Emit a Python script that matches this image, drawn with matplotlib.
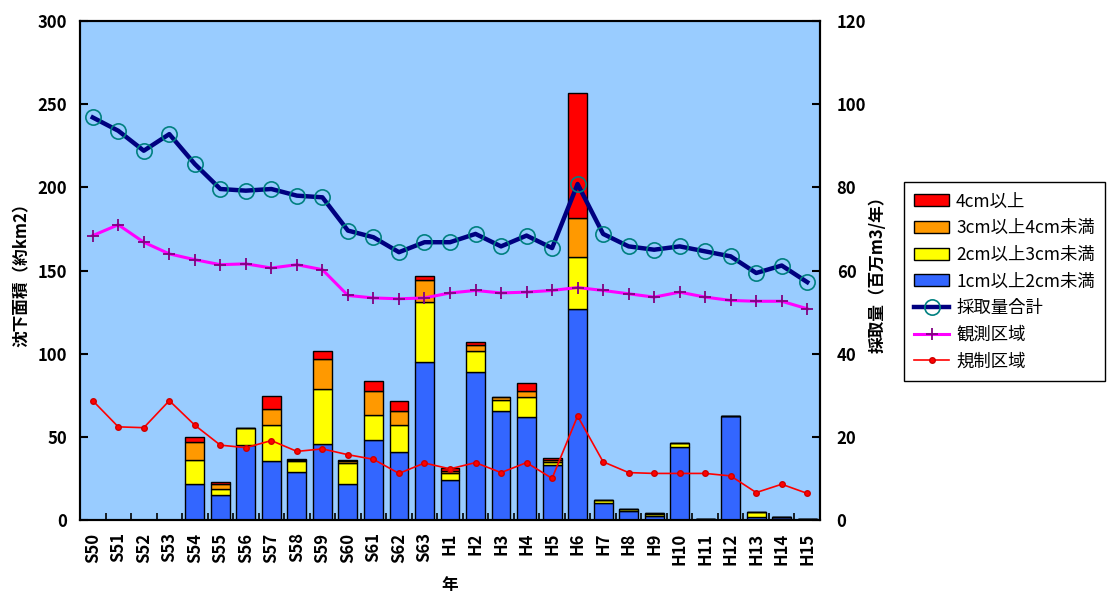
import matplotlib.pyplot as plt
from matplotlib.lines import Line2D
from matplotlib.patches import Patch
import numpy as np

plt.rcParams['font.family'] = ['Noto Sans CJK JP', 'DejaVu Sans']

years = ["S50", "S51", "S52", "S53", "S54", "S55", "S56", "S57", "S58", "S59",
         "S60", "S61", "S62", "S63", "H1", "H2", "H3", "H4", "H5", "H6",
         "H7", "H8", "H9", "H10", "H11", "H12", "H13", "H14", "H15"]

# subsidence area (km2) by class, left axis
area_1_2cm = [0, 0, 0, 0, 21.8, 14.8, 45.1, 35.3, 28.9, 45.7,
              21.8, 48.1, 40.9, 95.2, 23.9, 89.0, 65.5, 62.1, 33.1, 126.9,
              10.0, 5.6, 2.6, 44.1, 0.8, 62.7, 2.0, 2.0, 0.8]
area_2_3cm = [0, 0, 0, 0, 14.1, 4.0, 10.0, 21.6, 6.4, 33.3,
              12.3, 14.9, 16.4, 35.7, 4.2, 12.4, 6.7, 12.1, 2.0, 31.1,
              2.0, 1.2, 1.0, 2.0, 0, 0, 3.0, 0, 0]
area_3_4cm = [0, 0, 0, 0, 11.2, 2.8, 0, 10.0, 1.0, 17.6,
              1.2, 14.6, 8.4, 13.2, 1.6, 3.6, 2.0, 3.6, 1.0, 23.8,
              0, 0, 0.6, 0, 0, 0, 0, 0, 0]
area_4cm = [0, 0, 0, 0, 3.0, 1.4, 0, 7.9, 0.6, 5.0,
            0.8, 5.8, 5.7, 2.6, 1.4, 2.2, 0, 4.4, 1.0, 74.8,
            0, 0, 0, 0, 0, 0, 0, 0, 0]

# groundwater extraction (million m3/year), right axis
total_extraction = [96.8, 93.6, 88.8, 92.8, 85.6, 79.6, 79.2, 79.6, 78.0, 77.6,
                    69.6, 68.0, 64.4, 66.8, 66.8, 68.8, 65.8, 68.4, 65.4, 80.8,
                    68.8, 65.8, 65.0, 65.8, 64.6, 63.4, 59.4, 61.2, 57.2]
observed_area = [68.4, 71.0, 66.8, 64.0, 62.6, 61.4, 61.6, 60.6, 61.4, 60.2,
                 54.0, 53.4, 53.2, 53.4, 54.6, 55.2, 54.6, 54.8, 55.2, 55.9,
                 55.2, 54.4, 53.6, 54.8, 53.6, 52.8, 52.6, 52.6, 50.8]
regulated_area = [28.7, 22.4, 22.2, 28.7, 22.8, 18.0, 17.4, 19.1, 16.5, 17.1,
                  15.7, 14.6, 11.2, 13.7, 12.3, 13.8, 11.4, 13.8, 10.0, 25.0,
                  14.0, 11.4, 11.2, 11.2, 11.2, 10.6, 6.6, 8.6, 6.4]

BG = "#99CCFF"
C_BLUE, C_YELLOW, C_ORANGE, C_RED = "#3366FF", "#FFFF00", "#FF9900", "#FF0000"

fig = plt.figure(figsize=(11.12, 6.06), dpi=100)
ax = fig.add_axes([80 / 1112, 1 - 520 / 606, 740 / 1112, 499 / 606])
ax.set_facecolor(BG)

x = np.arange(len(years))
bottom = np.zeros(len(years))
for vals, color in [(area_1_2cm, C_BLUE), (area_2_3cm, C_YELLOW),
                    (area_3_4cm, C_ORANGE), (area_4cm, C_RED)]:
    ax.bar(x, vals, 0.74, bottom=bottom, color=color, edgecolor="black", linewidth=1, zorder=2)
    bottom += np.array(vals)

ax.set_xlim(-0.5, len(years) - 0.5)
ax.set_ylim(0, 300)
ax.set_yticks(range(0, 301, 50))
ax.set_xticks(x)
ax.set_xticklabels(years, rotation=90, fontweight="bold", fontsize=12)
ax.set_xticks(np.arange(0.5, len(years) - 1, 1), minor=True)
ax.tick_params(axis="x", which="major", length=0, pad=9)
ax.tick_params(axis="x", which="minor", direction="in", length=5, width=1.2)
ax.tick_params(axis="y", direction="in", length=6, width=1.5, labelsize=12, pad=9)
for lab in ax.get_yticklabels():
    lab.set_fontweight("bold")
ax.set_ylabel("沈下面積（約km2）", fontsize=12, fontweight="bold", labelpad=5)
ax.set_xlabel("年", fontsize=12, fontweight="bold", labelpad=8)

ax2 = ax.twinx()
ax2.set_ylim(0, 120)
ax2.set_yticks(range(0, 121, 20))
ax2.tick_params(axis="y", direction="in", length=6, width=1.5, labelsize=12, pad=12)
for lab in ax2.get_yticklabels():
    lab.set_fontweight("bold")
ax2.set_ylabel("採取量（百万m3/年）", fontsize=12, fontweight="bold", labelpad=2)

ax2.plot(x, regulated_area, color="#FF0000", lw=1.2, marker="o", ms=4,
         mfc="#FF0000", mec="#CC0000")
ax2.plot(x, observed_area, color="#FF00FF", lw=2.2, marker="+", ms=9,
         mec="#800080", mew=1.3)
ax2.plot(x, total_extraction, color="#000080", lw=3.2, marker="o", ms=11,
         mfc="none", mec="#008080", mew=1.2)

for a in (ax, ax2):
    for sp in a.spines.values():
        sp.set_linewidth(1.5)
        sp.set_color("black")

handles = [
    Patch(facecolor=C_RED, edgecolor="black", label="4cm以上"),
    Patch(facecolor=C_ORANGE, edgecolor="black", label="3cm以上4cm未満"),
    Patch(facecolor=C_YELLOW, edgecolor="black", label="2cm以上3cm未満"),
    Patch(facecolor=C_BLUE, edgecolor="black", label="1cm以上2cm未満"),
    Line2D([], [], color="#000080", lw=3.2, marker="o", ms=11, mfc="none",
           mec="#008080", mew=1.2, label="採取量合計"),
    Line2D([], [], color="#FF00FF", lw=2.2, marker="+", ms=9, mec="#800080",
           mew=1.3, label="観測区域"),
    Line2D([], [], color="#FF0000", lw=1.2, marker="o", ms=4, mfc="#FF0000",
           mec="#CC0000", label="規制区域"),
]
leg = fig.legend(handles=handles, loc="upper left", bbox_to_anchor=(904 / 1112, 1 - 182 / 606),
                 fontsize=12.5, frameon=True, fancybox=False, framealpha=1,
                 edgecolor="black", borderaxespad=0, handlelength=2.0,
                 labelspacing=0.5, borderpad=0.6, handletextpad=0.4)
leg.get_frame().set_linewidth(1)

fig.savefig("out.png", dpi=100)
